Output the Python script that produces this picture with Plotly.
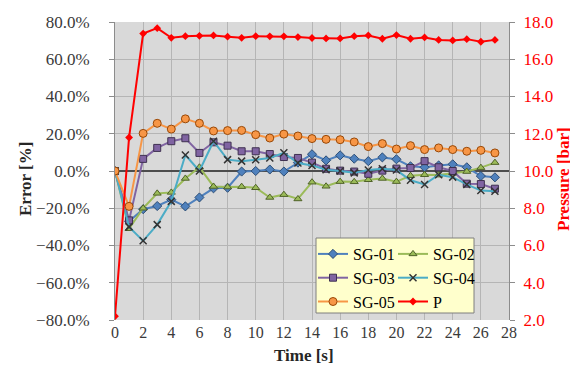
import plotly.graph_objects as go

time_s = list(range(28))
sg01 = [0, -27, -20.5, -18.8, -15.4, -19, -14.2, -9.3, -9, -0.3, 0, 0.8, -0.3, 4.5, 9, 5.7, 8.4, 6.6, 5.3, 7.3, 6.3, 2.5, 2, 3, 3.6, 2, -2.7, -3.4]
sg02 = [0, -31, -20, -12, -11.5, -4, 2, -8.3, -8.6, -8.4, -9, -14.2, -12.7, -15, -6, -8.2, -5.7, -5.8, -4.7, -4, -5.7, -2.5, -2, -2.2, -1.2, -0.3, 1.8, 4.5]
sg03 = [0, -26.5, 6.5, 12.4, 16, 17.6, 9.7, 15.4, 13.6, 10.6, 10.6, 9.1, 7.5, 7.0, 4.5, 1.2, 0.2, -0.3, -1.5, 0.2, 1.3, 1.6, 5.3, 2.0, 0, -6.8, -7, -9.5]
sg04 = [0, -30, -37.5, -28.8, -16.3, 8.6, 0, 16, 6.1, 5.3, 6, 7, 9.8, 4.3, 3, 0.7, 0, -1, 0.5, 1.2, 0.5, -5, -7.2, -2, -3.3, -7.2, -10.5, -10.9]
sg05 = [0, -19, 20.2, 25.6, 22.5, 28, 25.6, 21.5, 21.7, 21.8, 19.5, 17.7, 19.8, 18.8, 17.4, 17.0, 16.8, 15.6, 13.1, 14.7, 11.8, 13.6, 11.5, 12.4, 11.5, 10.6, 11.1, 9.7]
pressure = [2.2, 11.8, 17.38, 17.67, 17.15, 17.24, 17.26, 17.28, 17.21, 17.15, 17.24, 17.23, 17.23, 17.19, 17.14, 17.12, 17.12, 17.24, 17.28, 17.1, 17.3, 17.1, 17.17, 17.04, 17.01, 17.08, 16.94, 17.04]

FONT = "Liberation Serif, Times New Roman, serif"
fig = go.Figure()

def add(name, y, color, symbol, fill, border, size, legend, lw=2):
    fig.add_trace(go.Scatter(
        x=time_s, y=y, name=name, mode="lines+markers",
        line=dict(color=color, width=lw),
        marker=dict(symbol=symbol, size=size, color=fill, line=dict(color=border, width=1)),
        legend=legend))

add("SG-01", sg01, "#4F81BD", "diamond", "#4F81BD", "#2C4D75", 7, "legend")
add("SG-02", sg02, "#9BBB59", "triangle-up", "#9BBB59", "#4F6228", 7, "legend2")
add("SG-03", sg03, "#8064A2", "square", "#8064A2", "#3F3151", 7, "legend")
fig.add_trace(go.Scatter(
    x=time_s, y=sg04, name="SG-04", mode="lines+markers",
    line=dict(color="#4BACC6", width=2),
    marker=dict(symbol="x-thin", size=7, color="#333333", line=dict(color="#333333", width=1.5)),
    legend="legend2"))
add("SG-05", sg05, "#F79646", "circle", "#F79646", "#984807", 8, "legend")
fig.add_trace(go.Scatter(
    x=time_s, y=pressure, name="P", mode="lines+markers", yaxis="y2",
    line=dict(color="#FF0000", width=2),
    marker=dict(symbol="diamond", size=6, color="#FF0000"),
    legend="legend2"))

W, H = 578, 374
L, R, T, B = 107, 77, 14, 62
pw, ph = W - L - R, H - T - B

def px_x(p):
    return (p - L) / pw

def px_y(p):
    return (H - B - p) / ph

fig.add_shape(type="rect", xref="paper", yref="paper",
              x0=px_x(308), x1=px_x(466), y0=px_y(305), y1=px_y(230),
              fillcolor="#FFFFCC", line=dict(color="#7F7F7F", width=1), layer="above")

leg_common = dict(bgcolor="rgba(0,0,0,0)", font=dict(family=FONT, size=16, color="#000000"),
                  yanchor="top", xanchor="left", tracegroupgap=0, itemwidth=30)
fig.update_layout(
    width=W, height=H,
    margin=dict(l=L, r=R, t=T, b=B, autoexpand=False),
    paper_bgcolor="white", plot_bgcolor="#D9D9D9",
    font=dict(family=FONT, size=16, color="#3A3A3A"),
    showlegend=True,
    legend=dict(x=px_x(305), y=px_y(229), **leg_common),
    legend2=dict(x=px_x(385), y=px_y(229), **leg_common),
    xaxis=dict(range=[0, 28], dtick=2, tick0=0, showgrid=True, gridcolor="#B5B5B5", gridwidth=1,
               showline=False, zeroline=False, ticks="", ticklabelstandoff=1,
               tickfont=dict(family=FONT, size=16, color="#3A3A3A")),
    yaxis=dict(range=[-80, 80], dtick=20, tickformat=".1f", ticksuffix="%", showgrid=True,
               gridcolor="#B5B5B5", gridwidth=1, zeroline=True, zerolinecolor="#4D4D4D", zerolinewidth=1.5,
               showline=True, linecolor="#8C8C8C", linewidth=1, ticks="outside", ticklen=5, tickcolor="#8C8C8C",
               ticklabelstandoff=16,
               tickfont=dict(family=FONT, size=17, color="#3A3A3A")),
    yaxis2=dict(range=[2, 18], dtick=2, tickformat=".1f", overlaying="y", side="right", showgrid=False,
                zeroline=False, showline=True, linecolor="#8C8C8C", linewidth=1, ticks="outside", ticklen=5,
                tickcolor="#8C8C8C", ticklabelstandoff=5,
                tickfont=dict(family=FONT, size=17, color="#FF0000")),
)

fig.add_annotation(text="<b>Error [%]</b>", xref="paper", yref="paper", x=px_x(17), y=px_y(171),
                   xanchor="center", yanchor="middle",
                   textangle=-90, showarrow=False, font=dict(family=FONT, size=17, color="#262626"))
fig.add_annotation(text="<b>Time [s]</b>", xref="paper", yref="paper", x=px_x(296), y=px_y(347),
                   xanchor="center", yanchor="middle",
                   showarrow=False, font=dict(family=FONT, size=17, color="#262626"))
fig.add_annotation(text="<b>Pressure [bar]</b>", xref="paper", yref="paper", x=px_x(555), y=px_y(171),
                   xanchor="center", yanchor="middle",
                   textangle=-90, showarrow=False, font=dict(family=FONT, size=17, color="#FF0000"))

fig.write_html("out.html")
